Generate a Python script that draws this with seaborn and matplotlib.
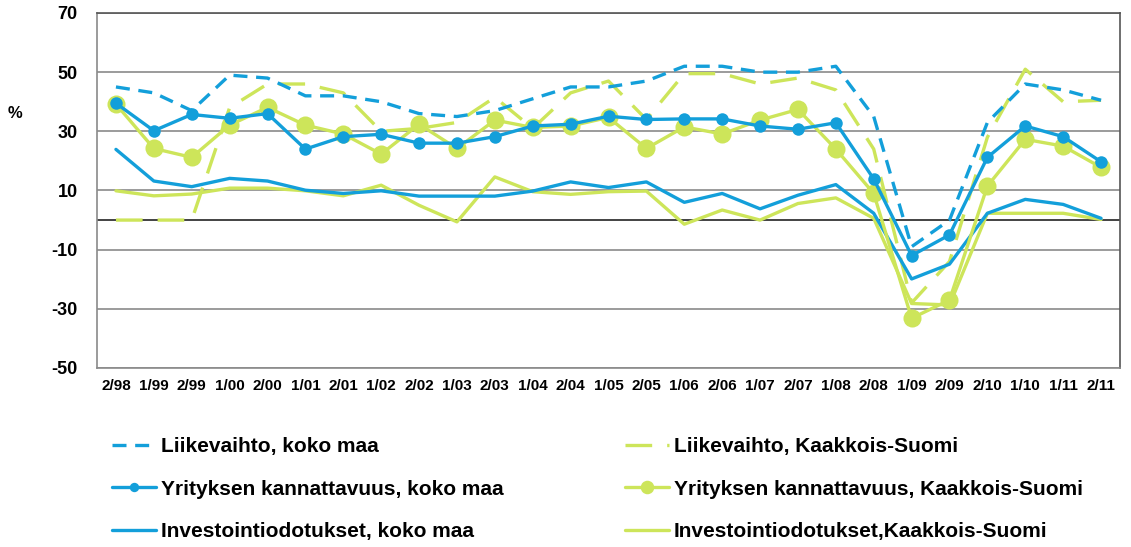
import numpy as np
import pandas as pd
import matplotlib
matplotlib.use("Agg")
import matplotlib.pyplot as plt
import seaborn as sns

categories = ["2/98", "1/99", "2/99", "1/00", "2/00", "1/01", "2/01", "1/02", "2/02",
              "1/03", "2/03", "1/04", "2/04", "1/05", "2/05", "1/06", "2/06", "1/07",
              "2/07", "1/08", "2/08", "1/09", "2/09", "2/10", "1/10", "1/11", "2/11"]

liikevaihto_koko = [45, 43, 37, 49, 48, 42, 42, 40, 36, 35, 37, 41, 45, 45, 47, 52, 52,
                    50, 50, 52, 35, -9, 0, 33, 46, 44, 40.5]
liikevaihto_ks = [0, 0, 0, 38, 46, 46, 43, 30, 31, 33, 41.5, 31, 43, 47, 34, 49.5, 49.5,
                  46, 48, 44, 24, -28, -14, 28, 51, 40, 40.5]
kannattavuus_koko = [39.5, 30.2, 35.7, 34.4, 36, 24, 28.2, 29, 26, 26, 28.2, 31.8, 32.4,
                     35.1, 34, 34.2, 34.2, 31.8, 30.7, 32.9, 13.9, -12, -5, 21.2, 31.8,
                     28.2, 19.7]
kannattavuus_ks = [39.2, 24.2, 21.2, 32.1, 38.1, 32.1, 29.1, 22.3, 32.4, 24.2, 33.8, 31.3,
                   31.8, 34.7, 24.2, 31.5, 29.1, 33.8, 37.4, 24, 9, -33.2, -27, 11.5, 27.3,
                   25, 17.8]
investointi_koko = [23.9, 13.2, 11.3, 14.1, 13.2, 10.1, 9, 9.9, 8.1, 8.1, 8.1, 9.8, 12.9,
                    11, 12.9, 6, 9, 3.8, 8.4, 12, 2.3, -19.9, -14.9, 2.3, 7, 5.3, 0.6]
investointi_ks = [9.9, 8.2, 8.8, 10.8, 10.8, 9.9, 8.2, 11.8, 5, -0.6, 14.6, 9.6, 8.7, 9.6,
                  9.8, -1.4, 3.4, 0, 5.6, 7.5, 0.6, -28.2, -28.7, 2.3, 2.3, 2.3, 0.2]

y_ticks = [-50, -30, -10, 10, 30, 50, 70]

BLUE = "#139fda"
GREEN = "#cde55a"

sns.set_theme(style="white")
plt.rcParams["font.family"] = ["Liberation Sans", "DejaVu Sans"]
plt.rcParams["text.color"] = "black"
plt.rcParams["xtick.color"] = "black"
plt.rcParams["ytick.color"] = "black"

fig = plt.figure(figsize=(11.31, 5.47), dpi=100)
ax = fig.add_axes([97 / 1131, 1 - 368 / 547, (1120 - 97) / 1131, (368 - 13) / 547])

xs = np.arange(len(categories))

for y in y_ticks:
    ax.axhline(y, color="#8a8a8a", linewidth=1.2, zorder=0)
ax.axhline(0, color="#222222", linewidth=1.2, zorder=0.5)

sns.lineplot(x=xs, y=liikevaihto_koko, ax=ax, color=BLUE, linewidth=2.4,
             linestyle=(0, (4.2, 2.6)), label="Liikevaihto, koko maa", zorder=3)
sns.lineplot(x=xs, y=kannattavuus_koko, ax=ax, color=BLUE, linewidth=2.4,
             marker="o", markersize=9, markeredgewidth=0,
             label="Yrityksen kannattavuus, koko maa", zorder=4)
sns.lineplot(x=xs, y=investointi_koko, ax=ax, color=BLUE, linewidth=2.4,
             label="Investointiodotukset, koko maa", zorder=3)
sns.lineplot(x=xs, y=liikevaihto_ks, ax=ax, color=GREEN, linewidth=2.4,
             linestyle=(0, (8, 4.5)), label="Liikevaihto, Kaakkois-Suomi", zorder=2)
sns.lineplot(x=xs, y=kannattavuus_ks, ax=ax, color=GREEN, linewidth=2.4,
             marker="o", markersize=13, markeredgewidth=0,
             label="Yrityksen kannattavuus, Kaakkois-Suomi", zorder=3.5)
sns.lineplot(x=xs, y=investointi_ks, ax=ax, color=GREEN, linewidth=2.4,
             label="Investointiodotukset,Kaakkois-Suomi", zorder=2)

ax.set_xlim(-0.5, len(categories) - 0.5)
ax.set_ylim(-50, 70)
ax.set_yticks(y_ticks)
ax.set_yticklabels([str(v) for v in y_ticks], fontsize=13, fontweight="bold")
ax.set_xticks(xs)
ax.set_xticklabels(categories, fontsize=11, fontweight="bold")
ax.tick_params(axis="x", length=0, pad=8)
ax.tick_params(axis="y", length=0, pad=14)
ax.grid(False)
for side in ["left", "right", "top", "bottom"]:
    ax.spines[side].set_visible(True)
    ax.spines[side].set_color("#555555")
    ax.spines[side].set_linewidth(1.2)
ax.spines["bottom"].set_color("#8a8a8a")
ax.spines["left"].set_color("#8a8a8a")

fig.text(15 / 1131, 1 - 113 / 547, "%", fontsize=12, fontweight="bold", ha="center", va="center")

handles, labels = ax.get_legend_handles_labels()
leg = ax.legend(handles, labels, ncol=2, loc="upper left",
                bbox_to_anchor=(104 / 1131, 1 - 429 / 547), bbox_transform=fig.transFigure,
                frameon=False, prop={"size": 15, "weight": "bold"},
                handlelength=2.1, handletextpad=0.25, columnspacing=5.8, labelspacing=1.12,
                markerscale=0.75, borderaxespad=0)

fig.savefig("out.png", dpi=100)
